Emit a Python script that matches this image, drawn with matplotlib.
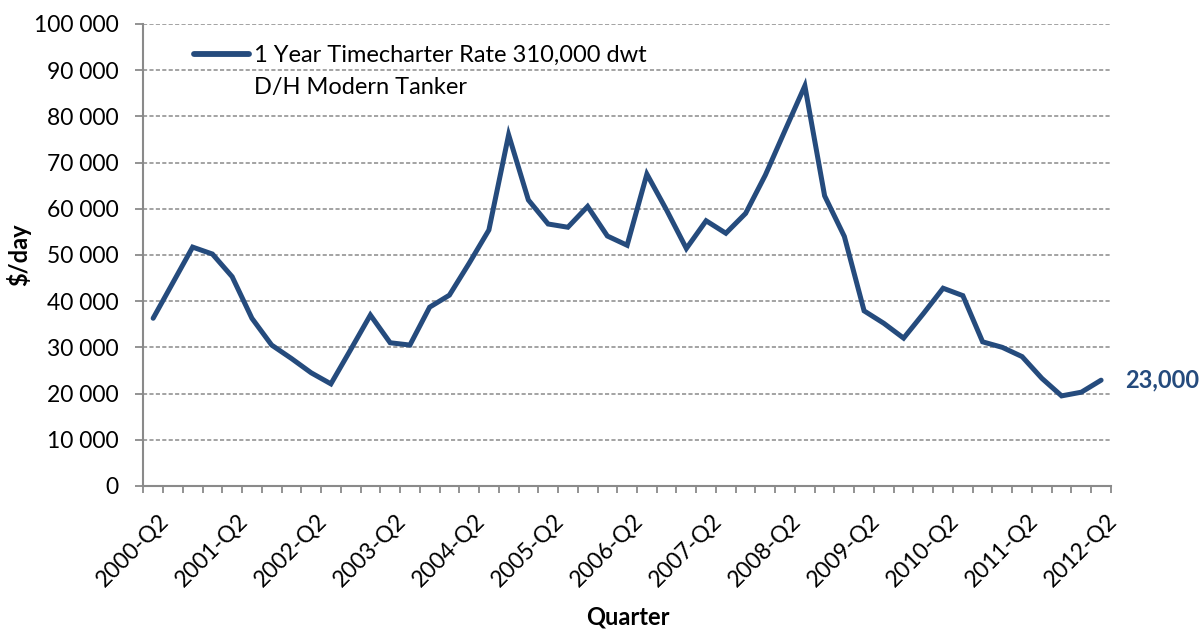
import matplotlib
matplotlib.use('Agg')
import matplotlib.pyplot as plt
import matplotlib.transforms as mtransforms
import numpy as np
from matplotlib.ticker import FuncFormatter, FixedLocator

plt.rcParams['font.family'] = ['Lato', 'DejaVu Sans']

# quarters 2000-Q2 .. 2012-Q2
quarters = []
for yr in range(2000, 2013):
    for q in range(1, 5):
        if (yr == 2000 and q < 2) or (yr == 2012 and q > 2): continue
        quarters.append('%d-Q%d' % (yr, q))

rate = [36.3, 44.0, 51.7, 50.2, 45.3, 36.3, 30.5, 27.6, 24.5, 22.1,
        29.5, 37.0, 31.0, 30.5, 38.7, 41.3, 48.2, 55.4, 76.0, 61.9,
        56.7, 56.0, 60.5, 54.1, 52.1, 67.5, 59.7, 51.4, 57.4, 54.7,
        59.0, 67.3, 77.0, 86.6, 62.8, 54.0, 37.9, 35.2, 32.0, 37.3,
        42.8, 41.2, 31.2, 30.0, 28.0, 23.3, 19.5, 20.3, 22.9]
rate = [v * 1000 for v in rate]

legend_lines = ['1 Year Timecharter Rate 310,000 dwt', 'D/H Modern Tanker']
end_label = '23,000'

line_color = '#254b7d'
grid_color = '#8a8a8a'

fig = plt.figure(figsize=(12.03, 6.30), dpi=100)
ax = fig.add_axes([0.1191, 0.2286, 0.8044, 0.7334])

x = np.arange(len(quarters))
ax.plot(x, rate, color=line_color, lw=3.6, solid_joinstyle='miter', solid_capstyle='round', zorder=3)

ax.set_xlim(-0.5, len(quarters) - 0.5)
ax.set_ylim(0, 100000)
ax.set_yticks(np.arange(0, 100001, 10000))
ax.yaxis.set_major_formatter(FuncFormatter(lambda v, p: '{:,}'.format(int(v)).replace(',', ' ')))
ax.yaxis.grid(True, color=grid_color, linestyle=(0, (2.7, 1.5)), lw=1.1)
ax.set_axisbelow(True)

ax.set_xticks(x[::4])
ax.set_xticklabels(quarters[::4], rotation=45, ha='right', va='top', rotation_mode='anchor')
ax.xaxis.set_minor_locator(FixedLocator(np.arange(-0.5, len(quarters), 1.0)))
ax.tick_params(axis='x', which='major', length=0, pad=17, labelsize=16.5)
ax.tick_params(axis='x', which='minor', length=5, width=1.3, color=grid_color, direction='out')
ax.tick_params(axis='y', length=5.8, width=1.3, color=grid_color, labelsize=16.5, pad=12)
shift = mtransforms.ScaledTranslation(5 / 100, 0, fig.dpi_scale_trans)
for lbl in ax.get_xticklabels():
    lbl.set_transform(lbl.get_transform() + shift)

for s in ['top', 'right']: ax.spines[s].set_visible(False)
for s in ['left', 'bottom']:
    ax.spines[s].set_color(grid_color)
    ax.spines[s].set_linewidth(1.5)

ax.set_ylabel('$/day', fontsize=17, fontweight='bold', labelpad=2)
ax.set_xlabel('Quarter', fontsize=17, fontweight='bold')
ax.xaxis.set_label_coords(0.501, -0.258)

ax.annotate(end_label, (x[-1], rate[-1]), xytext=(17, 0), textcoords='offset points',
            color=line_color, fontsize=17, fontweight='bold', va='center', ha='left',
            annotation_clip=False)

# legend key, drawn by hand so the swatch sits on the first text line
ax.plot([0.0524, 0.1092], [0.935, 0.935], transform=ax.transAxes, color=line_color,
        lw=4.2, solid_capstyle='round', clip_on=False)
ax.text(0.1144, 0.9177, legend_lines[0], transform=ax.transAxes, fontsize=17,
        ha='left', va='baseline')
ax.text(0.1144, 0.8485, legend_lines[1], transform=ax.transAxes, fontsize=17,
        ha='left', va='baseline')

fig.savefig('out.png', dpi=100)
